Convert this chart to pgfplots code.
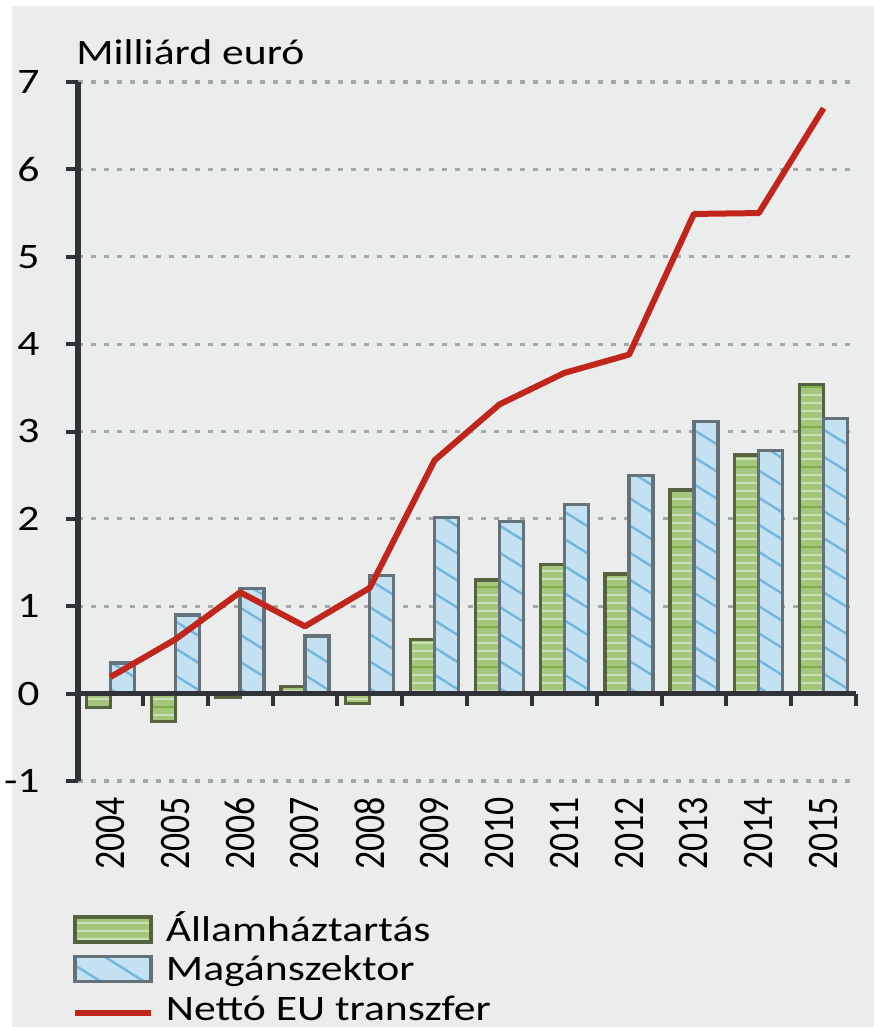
\documentclass[border=0pt]{standalone}
\usepackage{fontspec}
\setmainfont{Carlito}[FakeStretch=1.22]
\newfontfamily\rotfont{Carlito}[FakeStretch=0.82]
\usepackage{pgfplots}
\pgfplotsset{compat=1.18}
\usetikzlibrary{patterns.meta}
\definecolor{bg}{HTML}{EBEDEC}
\definecolor{axisc}{HTML}{2F3337}
\definecolor{gridc}{HTML}{A3A8AA}
\definecolor{greenfill}{HTML}{A5C67D}
\definecolor{greenlight}{HTML}{CDE0B5}
\definecolor{greendark}{HTML}{7DAF48}
\definecolor{greenedge}{HTML}{55633F}
\definecolor{bluefill}{HTML}{C4E1F2}
\definecolor{bluestripe}{HTML}{72B6DE}
\definecolor{blueedge}{HTML}{66727A}
\definecolor{redc}{HTML}{C0261C}
\newcommand\mainsize{\fontsize{17.9bp}{20bp}\selectfont}
\newcommand\rotsize{\rotfont\fontsize{21.8bp}{24bp}\selectfont}
\pgfplotsset{
  barlegend/.style={legend image code/.code={\draw[##1] (0bp,-0.5bp) rectangle (38bp,12bp);}},
  linelegend/.style={legend image code/.code={\draw[##1] (0bp,3.5bp) -- (38bp,3.5bp);}},
}
\begin{document}
\begin{tikzpicture}
\useasboundingbox (0,0) rectangle (437bp,513.5bp);
\fill[white] (0,0) rectangle (437bp,513.5bp);
\fill[bg] (6bp,0) rectangle (437bp,510.5bp);
\node[anchor=base west, inner sep=0pt, font=\mainsize] at (38bp,481bp) {Milliárd euró};
\begin{axis}[
  at={(39bp,123bp)}, anchor=south west, scale only axis,
  width=389bp, height=349.5bp,
  xmin=-0.5, xmax=11.5, ymin=-1, ymax=7,
  axis lines=left, axis line style={-},
  x axis line style={draw=none},
  y axis line style={line width=2.5bp, color=axisc},
  ytick={-1,0,1,2,3,4,5,6,7},
  yticklabels={-1,0,1,2,3,4,5,6,7},
  xtick={0,...,11},
  xticklabels={2004,2005,2006,2007,2008,2009,2010,2011,2012,2013,2014,2015},
  xtick style={draw=none},
  ytick style={line width=2bp, color=axisc},
  tick align=outside, major tick length=6bp,
  ymajorgrids,
  grid style={color=gridc, line width=1.6bp, dash pattern=on 2.3bp off 4.2bp},
  yticklabel style={font=\mainsize, anchor=east, inner sep=0pt, xshift=-13bp},
  xticklabel style={font=\rotsize, rotate=90, anchor=east, inner sep=0pt, xshift=-2bp},
  clip=false,
  legend style={draw=none, fill=none, inner sep=0pt, outer sep=0pt,
    at={(axis description cs:-0.0078,-0.1918)}, anchor=north west,
    font=\mainsize, row sep=0pt, column sep=6bp,
    cells={anchor=base west},
    nodes={inner sep=0pt, text height=13bp, text depth=6.75bp}},
]
\addplot[ybar, bar width=12bp, bar shift=-6bp, draw=greenedge, line width=1.6bp, fill=greenfill,
  postaction={pattern={Lines[angle=0,distance=4bp,line width=0.9bp]}, pattern color=greenlight},
  postaction={pattern={Lines[angle=0,distance=20bp,line width=1bp]}, pattern color=greendark},
  barlegend]
 coordinates {(0,-0.16) (1,-0.32) (2,-0.04) (3,0.08) (4,-0.11) (5,0.62) (6,1.30) (7,1.48) (8,1.37) (9,2.33) (10,2.73) (11,3.54)};
\addlegendentry{Államháztartás}
\addplot[ybar, bar width=12bp, bar shift=6bp, draw=blueedge, line width=1.6bp, fill=bluefill,
  postaction={pattern={Lines[angle=-32,distance=11.5bp,line width=1.2bp]}, pattern color=bluestripe},
  barlegend]
 coordinates {(0,0.35) (1,0.90) (2,1.20) (3,0.66) (4,1.35) (5,2.02) (6,1.97) (7,2.16) (8,2.50) (9,3.11) (10,2.78) (11,3.15)};
\addlegendentry{Magánszektor}
\addplot[sharp plot, color=redc, line width=3bp, line join=round, mark=none, linelegend]
 coordinates {(0,0.19) (1,0.62) (2,1.16) (3,0.77) (4,1.21) (5,2.67) (6,3.31) (7,3.67) (8,3.88) (9,5.49) (10,5.50) (11,6.70)};
\addlegendentry{Nettó EU transzfer}
\draw[line width=2.5bp, axisc] (axis cs:-0.5,0) -- (axis cs:11.5,0);
\pgfplotsinvokeforeach{0.5,1.5,2.5,3.5,4.5,5.5,6.5,7.5,8.5,9.5,10.5,11.5}{
  \draw[line width=2bp, axisc] (axis cs:#1,0) -- ([yshift=-6bp]axis cs:#1,0);
}
\end{axis}
\end{tikzpicture}
\end{document}
